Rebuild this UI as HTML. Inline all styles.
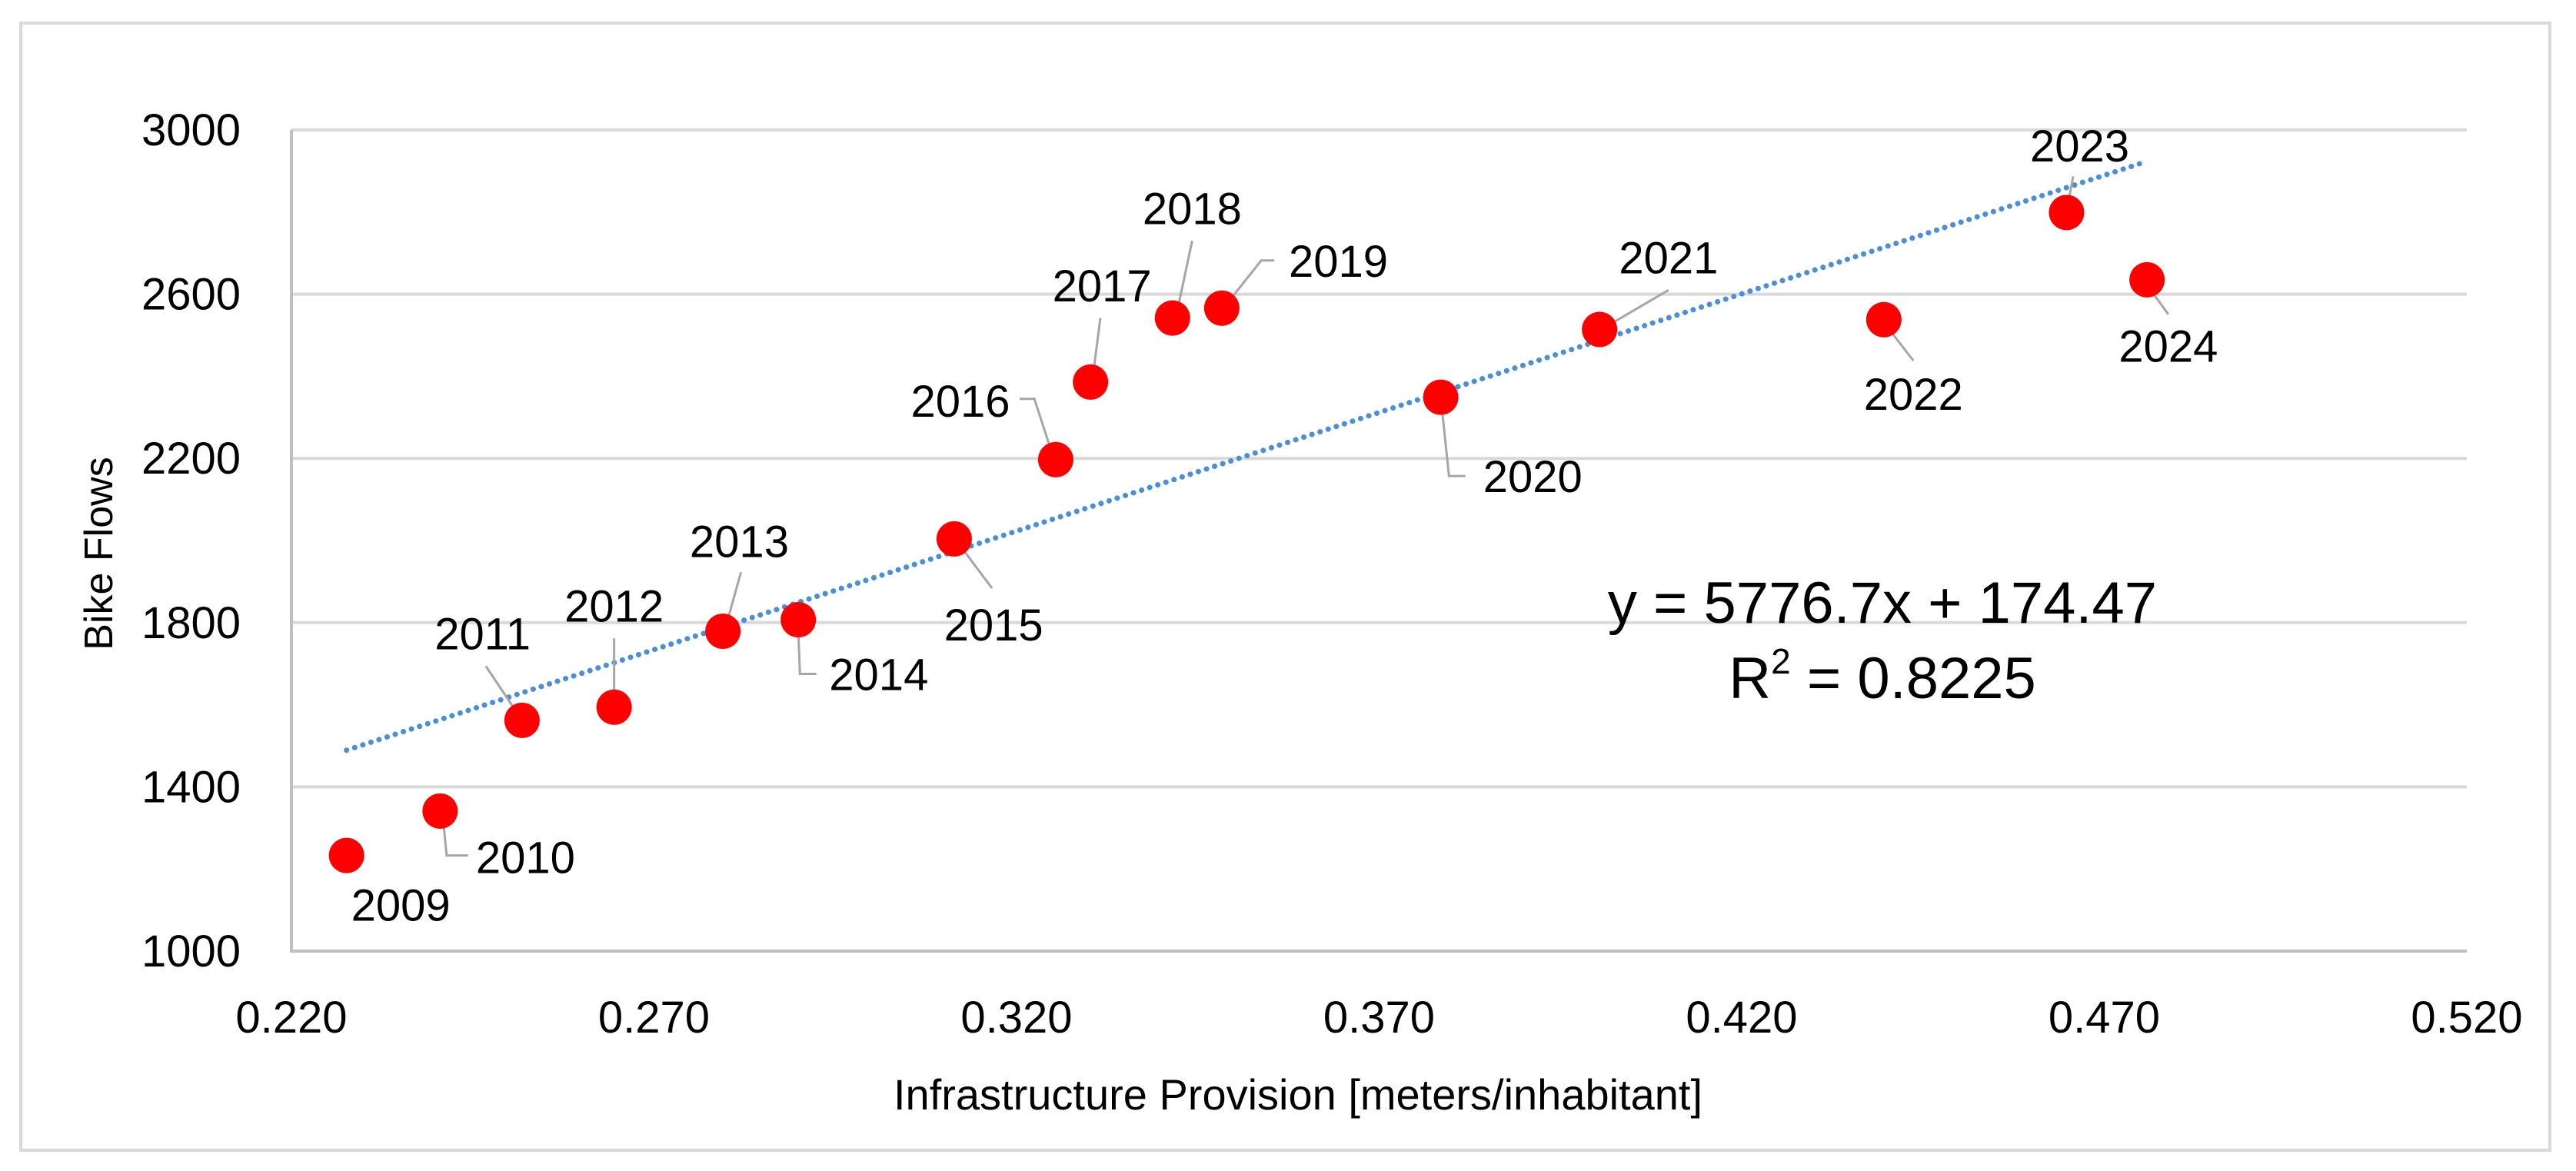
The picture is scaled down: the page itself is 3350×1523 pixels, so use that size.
<!DOCTYPE html>
<html><head><meta charset="utf-8"><style>
html,body{margin:0;padding:0;background:#fff;}
svg{display:block;font-family:"Liberation Sans",Arial,sans-serif;}
</style></head><body>
<svg id="chart" width="3350" height="1523" viewBox="0 0 3350 1523" xmlns="http://www.w3.org/2000/svg">
<rect x="27" y="30" width="3289" height="1466" fill="#fff" stroke="#d9d9d9" stroke-width="4"/>
<g id="grid"></g><g id="axes"></g><g id="trend"></g><g id="leaders"></g><g id="points"></g><g id="labels"></g>
<text x="0" y="0" transform="translate(146,720) rotate(-90)" text-anchor="middle" font-size="52" fill="#000">Bike Flows</text>
<text x="1688" y="1443" text-anchor="middle" font-size="56" fill="#000">Infrastructure Provision [meters/inhabitant]</text>
<text x="2448" y="810" text-anchor="middle" font-size="76" fill="#000">y = 5776.7x + 174.47</text>
<text x="2448" y="908" text-anchor="middle" font-size="76" fill="#000">R<tspan font-size="46" dy="-32">2</tspan><tspan dy="32"> = 0.8225</tspan></text>
</svg>
<script>
const years = ['2009','2010','2011','2012','2013','2014','2015','2016','2017','2018','2019','2020','2021','2022','2023','2024'];
const xValues = [0.2276,0.2405,0.2518,0.2645,0.2795,0.2899,0.3114,0.3254,0.3302,0.3415,0.3483,0.3785,0.4004,0.4396,0.4648,0.4759];
const yValues = [1233,1341,1562,1594,1779,1807,2004,2197,2386,2542,2566,2349,2514,2538,2799,2635];
const xTicks = [0.22,0.27,0.32,0.37,0.42,0.47,0.52];
const yTicks = [1000,1400,1800,2200,2600,3000];
const trendSlope = 5776.7;
const trendIntercept = 174.47;
// label offsets (display units, relative to point) and leader polylines
const S = 2.136;
const labelOff = [[33,30],[52,28],[-24,-53],[0,-62],[10,-55],[49,33],[24,52],[-58,-36],[7,-59],[12,-67],[71,-29],[56,48],[42,-44],[18,45],[8,-41],[13,40]];
const leaderPts = [null,[[2,7],[4,27],[17,27]],[[-22,-33],[0,0]],[[0,-42],[0,0]],[[11,-36],[1,0]],[[0,7],[1,33],[11,33]],[[2,2],[23,30]],[[-22,-37],[-13,-37],[-1,0]],[[6,-39],[1,0]],[[12,-47],[2,0]],[[1,0],[24,-29],[32,-29]],[[0,0],[5,48],[15,48]],[[1,0],[42,-24]],[[1,3],[18,25]],[[4,-22],[0,0]]
,[[2,6],[13,21]]];
const X0=379,X1=3208,Y0=1237,Y1=169;
const xs=v=>X0+(v-0.22)/(0.52-0.22)*(X1-X0);
const ys=v=>Y0-(v-1000)/(3000-1000)*(Y0-Y1);
const NS='http://www.w3.org/2000/svg';
function mk(tag,parent,attrs){const e=document.createElementNS(NS,tag);for(const k in attrs)e.setAttribute(k,attrs[k]);document.getElementById(parent).appendChild(e);return e;}
yTicks.forEach(t=>{
  const l=mk('line','grid',{x1:X0,x2:X1,y1:ys(t),y2:ys(t),stroke:t===1000?'#bfbfbf':'#d9d9d9','stroke-width':4});
  
  
  const tx=mk('text','axes',{x:313,y:ys(t)+20,'text-anchor':'end','font-size':58,fill:'#000'});
  tx.textContent=t;
  
  
});
const ax=mk('line','axes',{x1:X0,x2:X0,y1:Y1,y2:Y0+2,stroke:'#bfbfbf','stroke-width':4});


xTicks.forEach(t=>{
  const tx=mk('text','axes',{x:xs(t),y:1343,'text-anchor':'middle','font-size':58,fill:'#000'});
  tx.textContent=t.toFixed(3);
  
  
});
const xmin=Math.min(...xValues),xmax=Math.max(...xValues);
const tl=mk('line','trend',{x1:xs(xmin),y1:ys(trendSlope*xmin+trendIntercept),x2:xs(xmax),y2:ys(trendSlope*xmax+trendIntercept),stroke:'#4a8fd8','stroke-width':7,'stroke-dasharray':'0.1 11','stroke-linecap':'round'});


years.forEach((yr,i)=>{
  const px=xs(xValues[i]),py=ys(yValues[i]);
  const c=mk('circle','points',{cx:px,cy:py,r:23,fill:'#ff0000'});
  
  
  const t=mk('text','labels',{x:px+labelOff[i][0]*S,y:py+labelOff[i][1]*S+21,'text-anchor':'middle','font-size':58,fill:'#000'});
  t.textContent=yr;
  
  
  if(leaderPts[i]){
    const pts=leaderPts[i].map(p=>(px+p[0]*S)+','+(py+p[1]*S)).join(' ');
    const pl=mk('polyline','leaders',{points:pts,fill:'none',stroke:'#a6a6a6','stroke-width':3});
    
    
  }
});
</script>
</body></html>
